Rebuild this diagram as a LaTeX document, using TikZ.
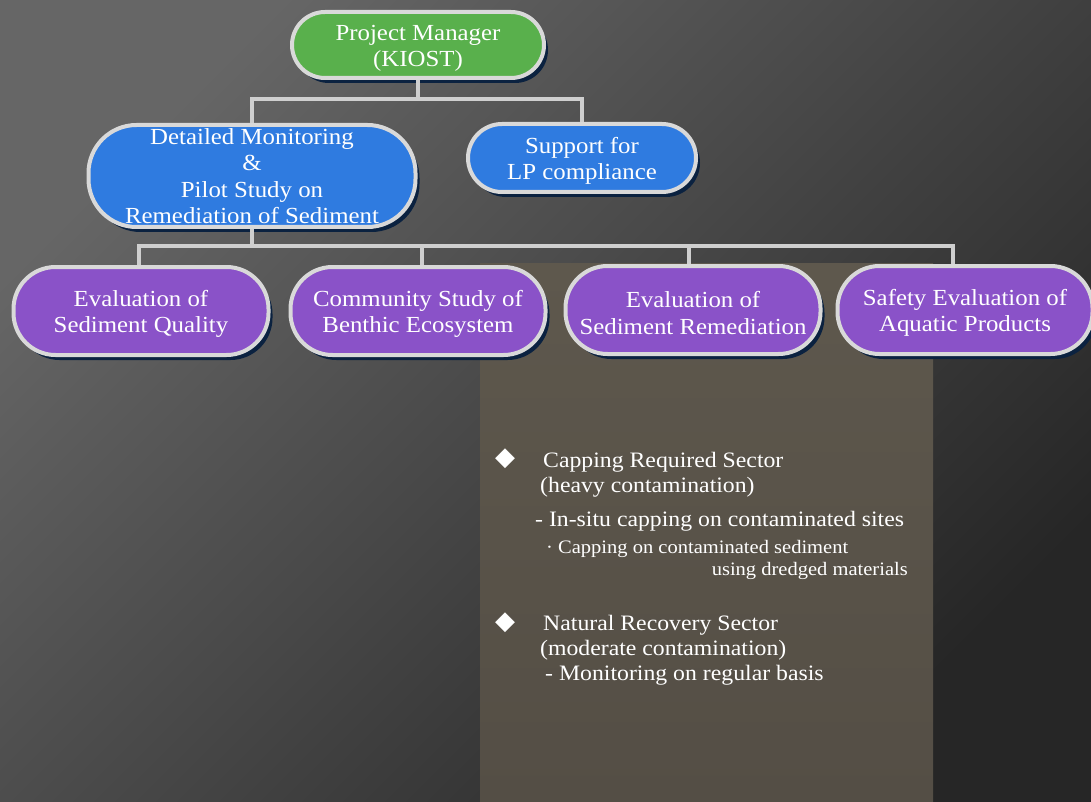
\documentclass[tikz,border=0pt]{standalone}
\usepackage{fontspec}
\setmainfont{Liberation Serif}[FakeStretch=1.08]
\newfontfamily\symfont{DejaVu Sans}
\usetikzlibrary{shadows}
\definecolor{bgtop}{HTML}{666666}
\definecolor{bgbot}{HTML}{262626}
\definecolor{paneltop}{HTML}{5E584D}
\definecolor{panelbot}{HTML}{544E45}
\definecolor{pmgreen}{HTML}{59B04C}
\definecolor{dmblue}{HTML}{2F7BE0}
\definecolor{evpurple}{HTML}{8A52C8}
\definecolor{rim}{HTML}{D9D9D9}
\definecolor{wire}{HTML}{CFCFCF}
\definecolor{shadowblue}{HTML}{0B2240}
\newcommand{\lowerstrut}{\rule{0pt}{22pt}}
\tikzset{
  box/.style={draw=rim, line width=4pt, rounded corners=#1, inner sep=0pt,
    align=center, text=white, font=\fontsize{23}{26.5}\selectfont,
    drop shadow={shadow xshift=4pt, shadow yshift=-5pt, fill=shadowblue, opacity=1}},
  conn/.style={draw=wire, line width=4pt},
  item/.style={text=white, anchor=base west, inner sep=0pt, font=\fontsize{22}{26}\selectfont},
  subitem/.style={item, font=\fontsize{19}{22}\selectfont},
  bullet/.style={text=white, inner sep=0pt, font=\symfont\fontsize{26}{28}\selectfont}
}
\begin{document}
\begin{tikzpicture}[x=1pt, y=-1pt]
%background
\useasboundingbox (0,0) rectangle (1091,802);
\shade[top color=bgtop, bottom color=bgbot, shading angle=45] (0,0) rectangle (1091,802);
\shade[top color=paneltop, bottom color=panelbot] (480,263) rectangle (933,802);
%boxes
\node[box=33, fill=pmgreen, minimum width=252pt, minimum height=66pt] (pm) at (418,45)
  {\lowerstrut Project Manager\\(KIOST)};
\node[box=48, fill=dmblue, minimum width=327pt, minimum height=102pt] (dm) at (252,176)
  {Detailed Monitoring\\\&\\Pilot Study on\\Remediation of Sediment};
\node[box=34, fill=dmblue, minimum width=228pt, minimum height=68pt] (lp) at (582,158)
  {\lowerstrut Support for\\LP compliance};
\foreach \n/\x/\y/\t in {eq/141/311/{Evaluation of\\Sediment Quality},
                         cs/418/311/{Community Study of\\Benthic Ecosystem},
                         er/693/310/{Evaluation of\\Sediment Remediation},
                         ap/965/310/{Safety Evaluation of\\Aquatic Products}}
  \node[box=42, fill=evpurple, minimum width=255pt, minimum height=88pt] (\n) at (\x,\y) {\lowerstrut\t};
%connectors
\draw[conn] (pm.south) -- ++(0,19) coordinate (j1);
\draw[conn] (dm.north) |- (j1) -| (lp.north);
\draw[conn] (dm.south) -- ++(0,17) coordinate (j2);
\draw[conn] ([xshift=-2pt]eq.north) |- (j2);
\draw[conn] ([xshift=4pt]cs.north) |- (j2);
\draw[conn] ([xshift=-4pt]er.north) |- (j2);
\draw[conn] ([xshift=-12pt]ap.north) |- (j2);
%panel text
\node[bullet] (b1) at (505,459) {◆};
\node[item] (cap) at (543,467) {Capping Required Sector};
\node[item] (heavy) at (540,492) {(heavy contamination)};
\node[item] (insitu) at (535,526) {- In-situ capping on contaminated sites};
\node[subitem] (capdot) at (546,553) {· Capping on contaminated sediment};
\node[subitem, anchor=base east] (dredged) at (908,575) {using dredged materials};
\node[bullet] (b2) at (505,623) {◆};
\node[item] (natural) at (543,630) {Natural Recovery Sector};
\node[item] (moderate) at (540,655) {(moderate contamination)};
\node[item] (monit) at (545,680) {- Monitoring on regular basis};
\end{tikzpicture}
\end{document}
